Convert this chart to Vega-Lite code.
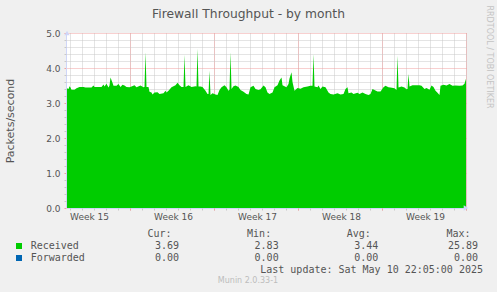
{
  "$schema": "https://vega.github.io/schema/vega-lite/v6.json",
  "width": 399,
  "height": 175,
  "autosize": {"type": "none"},
  "padding": {"left": 67, "top": 33, "right": 31, "bottom": 84},
  "background": "#f0f0f0",
  "config": {
    "view": {"stroke": null, "fill": "#ffffff"},
    "font": "DejaVu Sans",
    "axis": {"labelFont": "DejaVu Sans", "titleFont": "DejaVu Sans", "titleFontWeight": "normal"}
  },
  "datasets": {
    "throughput": [
      {"t": "2025-04-07T18:00Z", "v": 3.42, "series": "Received"},
      {"t": "2025-04-07T21:00Z", "v": 3.40, "series": "Received"},
      {"t": "2025-04-07T23:00Z", "v": 3.48, "series": "Received"},
      {"t": "2025-04-08T01:00Z", "v": 3.44, "series": "Received"},
      {"t": "2025-04-08T03:00Z", "v": 3.38, "series": "Received"},
      {"t": "2025-04-08T09:00Z", "v": 3.38, "series": "Received"},
      {"t": "2025-04-08T13:00Z", "v": 3.42, "series": "Received"},
      {"t": "2025-04-08T19:00Z", "v": 3.46, "series": "Received"},
      {"t": "2025-04-09T03:00Z", "v": 3.46, "series": "Received"},
      {"t": "2025-04-09T07:00Z", "v": 3.44, "series": "Received"},
      {"t": "2025-04-09T19:00Z", "v": 3.44, "series": "Received"},
      {"t": "2025-04-09T23:00Z", "v": 3.50, "series": "Received"},
      {"t": "2025-04-10T01:00Z", "v": 3.46, "series": "Received"},
      {"t": "2025-04-10T15:00Z", "v": 3.46, "series": "Received"},
      {"t": "2025-04-10T19:00Z", "v": 3.53, "series": "Received"},
      {"t": "2025-04-10T21:00Z", "v": 3.47, "series": "Received"},
      {"t": "2025-04-11T01:00Z", "v": 3.55, "series": "Received"},
      {"t": "2025-04-11T05:00Z", "v": 3.44, "series": "Received"},
      {"t": "2025-04-11T07:00Z", "v": 3.50, "series": "Received"},
      {"t": "2025-04-11T09:00Z", "v": 3.73, "series": "Received"},
      {"t": "2025-04-11T13:00Z", "v": 3.58, "series": "Received"},
      {"t": "2025-04-11T15:00Z", "v": 3.49, "series": "Received"},
      {"t": "2025-04-11T21:00Z", "v": 3.49, "series": "Received"},
      {"t": "2025-04-12T01:00Z", "v": 3.54, "series": "Received"},
      {"t": "2025-04-12T05:00Z", "v": 3.46, "series": "Received"},
      {"t": "2025-04-12T09:00Z", "v": 3.52, "series": "Received"},
      {"t": "2025-04-12T13:00Z", "v": 3.50, "series": "Received"},
      {"t": "2025-04-12T17:00Z", "v": 3.46, "series": "Received"},
      {"t": "2025-04-12T23:00Z", "v": 3.45, "series": "Received"},
      {"t": "2025-04-13T03:00Z", "v": 3.47, "series": "Received"},
      {"t": "2025-04-13T09:00Z", "v": 3.51, "series": "Received"},
      {"t": "2025-04-13T13:00Z", "v": 3.45, "series": "Received"},
      {"t": "2025-04-13T21:00Z", "v": 3.50, "series": "Received"},
      {"t": "2025-04-14T03:00Z", "v": 3.45, "series": "Received"},
      {"t": "2025-04-14T05:00Z", "v": 3.46, "series": "Received"},
      {"t": "2025-04-14T07:00Z", "v": 4.45, "series": "Received"},
      {"t": "2025-04-14T09:00Z", "v": 3.46, "series": "Received"},
      {"t": "2025-04-14T13:00Z", "v": 3.46, "series": "Received"},
      {"t": "2025-04-14T15:00Z", "v": 3.32, "series": "Received"},
      {"t": "2025-04-14T19:00Z", "v": 3.30, "series": "Received"},
      {"t": "2025-04-14T21:00Z", "v": 3.24, "series": "Received"},
      {"t": "2025-04-15T01:00Z", "v": 3.30, "series": "Received"},
      {"t": "2025-04-15T07:00Z", "v": 3.31, "series": "Received"},
      {"t": "2025-04-15T11:00Z", "v": 3.26, "series": "Received"},
      {"t": "2025-04-15T19:00Z", "v": 3.28, "series": "Received"},
      {"t": "2025-04-15T23:00Z", "v": 3.35, "series": "Received"},
      {"t": "2025-04-16T01:00Z", "v": 3.30, "series": "Received"},
      {"t": "2025-04-16T05:00Z", "v": 3.35, "series": "Received"},
      {"t": "2025-04-16T11:00Z", "v": 3.45, "series": "Received"},
      {"t": "2025-04-16T19:00Z", "v": 3.51, "series": "Received"},
      {"t": "2025-04-16T23:00Z", "v": 3.58, "series": "Received"},
      {"t": "2025-04-17T03:00Z", "v": 3.51, "series": "Received"},
      {"t": "2025-04-17T07:00Z", "v": 3.46, "series": "Received"},
      {"t": "2025-04-17T11:00Z", "v": 3.46, "series": "Received"},
      {"t": "2025-04-17T13:00Z", "v": 4.38, "series": "Received"},
      {"t": "2025-04-17T15:00Z", "v": 3.46, "series": "Received"},
      {"t": "2025-04-17T21:00Z", "v": 3.51, "series": "Received"},
      {"t": "2025-04-18T03:00Z", "v": 3.46, "series": "Received"},
      {"t": "2025-04-18T11:00Z", "v": 3.48, "series": "Received"},
      {"t": "2025-04-18T13:00Z", "v": 3.47, "series": "Received"},
      {"t": "2025-04-18T15:00Z", "v": 4.55, "series": "Received"},
      {"t": "2025-04-18T17:00Z", "v": 3.47, "series": "Received"},
      {"t": "2025-04-18T21:00Z", "v": 3.47, "series": "Received"},
      {"t": "2025-04-19T01:00Z", "v": 3.46, "series": "Received"},
      {"t": "2025-04-19T07:00Z", "v": 3.35, "series": "Received"},
      {"t": "2025-04-19T11:00Z", "v": 3.26, "series": "Received"},
      {"t": "2025-04-19T13:00Z", "v": 3.26, "series": "Received"},
      {"t": "2025-04-19T15:00Z", "v": 3.92, "series": "Received"},
      {"t": "2025-04-19T17:00Z", "v": 3.23, "series": "Received"},
      {"t": "2025-04-19T21:00Z", "v": 3.28, "series": "Received"},
      {"t": "2025-04-20T03:00Z", "v": 3.24, "series": "Received"},
      {"t": "2025-04-20T07:00Z", "v": 3.23, "series": "Received"},
      {"t": "2025-04-20T11:00Z", "v": 3.37, "series": "Received"},
      {"t": "2025-04-20T15:00Z", "v": 3.45, "series": "Received"},
      {"t": "2025-04-20T21:00Z", "v": 3.51, "series": "Received"},
      {"t": "2025-04-21T01:00Z", "v": 3.45, "series": "Received"},
      {"t": "2025-04-21T05:00Z", "v": 3.35, "series": "Received"},
      {"t": "2025-04-21T07:00Z", "v": 3.38, "series": "Received"},
      {"t": "2025-04-21T09:00Z", "v": 4.45, "series": "Received"},
      {"t": "2025-04-21T11:00Z", "v": 3.40, "series": "Received"},
      {"t": "2025-04-21T15:00Z", "v": 3.48, "series": "Received"},
      {"t": "2025-04-21T19:00Z", "v": 3.50, "series": "Received"},
      {"t": "2025-04-22T01:00Z", "v": 3.46, "series": "Received"},
      {"t": "2025-04-22T05:00Z", "v": 3.37, "series": "Received"},
      {"t": "2025-04-22T11:00Z", "v": 3.32, "series": "Received"},
      {"t": "2025-04-22T17:00Z", "v": 3.26, "series": "Received"},
      {"t": "2025-04-22T21:00Z", "v": 3.24, "series": "Received"},
      {"t": "2025-04-23T01:00Z", "v": 3.45, "series": "Received"},
      {"t": "2025-04-23T07:00Z", "v": 3.49, "series": "Received"},
      {"t": "2025-04-23T11:00Z", "v": 3.40, "series": "Received"},
      {"t": "2025-04-23T17:00Z", "v": 3.37, "series": "Received"},
      {"t": "2025-04-23T21:00Z", "v": 3.39, "series": "Received"},
      {"t": "2025-04-24T03:00Z", "v": 3.50, "series": "Received"},
      {"t": "2025-04-24T07:00Z", "v": 3.45, "series": "Received"},
      {"t": "2025-04-24T11:00Z", "v": 3.30, "series": "Received"},
      {"t": "2025-04-24T15:00Z", "v": 3.26, "series": "Received"},
      {"t": "2025-04-24T21:00Z", "v": 3.30, "series": "Received"},
      {"t": "2025-04-25T01:00Z", "v": 3.45, "series": "Received"},
      {"t": "2025-04-25T07:00Z", "v": 3.51, "series": "Received"},
      {"t": "2025-04-25T11:00Z", "v": 3.64, "series": "Received"},
      {"t": "2025-04-25T15:00Z", "v": 3.73, "series": "Received"},
      {"t": "2025-04-25T17:00Z", "v": 3.51, "series": "Received"},
      {"t": "2025-04-25T19:00Z", "v": 3.49, "series": "Received"},
      {"t": "2025-04-26T01:00Z", "v": 3.45, "series": "Received"},
      {"t": "2025-04-26T05:00Z", "v": 3.54, "series": "Received"},
      {"t": "2025-04-26T07:00Z", "v": 3.70, "series": "Received"},
      {"t": "2025-04-26T11:00Z", "v": 3.88, "series": "Received"},
      {"t": "2025-04-26T13:00Z", "v": 3.60, "series": "Received"},
      {"t": "2025-04-26T17:00Z", "v": 3.35, "series": "Received"},
      {"t": "2025-04-26T23:00Z", "v": 3.43, "series": "Received"},
      {"t": "2025-04-27T05:00Z", "v": 3.41, "series": "Received"},
      {"t": "2025-04-27T11:00Z", "v": 3.45, "series": "Received"},
      {"t": "2025-04-27T19:00Z", "v": 3.47, "series": "Received"},
      {"t": "2025-04-28T01:00Z", "v": 3.49, "series": "Received"},
      {"t": "2025-04-28T05:00Z", "v": 3.49, "series": "Received"},
      {"t": "2025-04-28T07:00Z", "v": 4.40, "series": "Received"},
      {"t": "2025-04-28T09:00Z", "v": 3.47, "series": "Received"},
      {"t": "2025-04-28T15:00Z", "v": 3.45, "series": "Received"},
      {"t": "2025-04-28T17:00Z", "v": 3.50, "series": "Received"},
      {"t": "2025-04-28T21:00Z", "v": 3.40, "series": "Received"},
      {"t": "2025-04-29T01:00Z", "v": 3.47, "series": "Received"},
      {"t": "2025-04-29T07:00Z", "v": 3.45, "series": "Received"},
      {"t": "2025-04-29T13:00Z", "v": 3.30, "series": "Received"},
      {"t": "2025-04-29T17:00Z", "v": 3.26, "series": "Received"},
      {"t": "2025-04-29T23:00Z", "v": 3.24, "series": "Received"},
      {"t": "2025-04-30T07:00Z", "v": 3.28, "series": "Received"},
      {"t": "2025-04-30T13:00Z", "v": 3.24, "series": "Received"},
      {"t": "2025-04-30T19:00Z", "v": 3.26, "series": "Received"},
      {"t": "2025-04-30T23:00Z", "v": 3.40, "series": "Received"},
      {"t": "2025-05-01T03:00Z", "v": 3.45, "series": "Received"},
      {"t": "2025-05-01T05:00Z", "v": 3.28, "series": "Received"},
      {"t": "2025-05-01T11:00Z", "v": 3.30, "series": "Received"},
      {"t": "2025-05-01T15:00Z", "v": 3.26, "series": "Received"},
      {"t": "2025-05-01T23:00Z", "v": 3.29, "series": "Received"},
      {"t": "2025-05-02T03:00Z", "v": 3.26, "series": "Received"},
      {"t": "2025-05-02T09:00Z", "v": 3.30, "series": "Received"},
      {"t": "2025-05-02T15:00Z", "v": 3.26, "series": "Received"},
      {"t": "2025-05-02T21:00Z", "v": 3.23, "series": "Received"},
      {"t": "2025-05-03T01:00Z", "v": 3.26, "series": "Received"},
      {"t": "2025-05-03T05:00Z", "v": 3.40, "series": "Received"},
      {"t": "2025-05-03T09:00Z", "v": 3.37, "series": "Received"},
      {"t": "2025-05-03T15:00Z", "v": 3.33, "series": "Received"},
      {"t": "2025-05-03T21:00Z", "v": 3.33, "series": "Received"},
      {"t": "2025-05-04T03:00Z", "v": 3.45, "series": "Received"},
      {"t": "2025-05-04T07:00Z", "v": 3.49, "series": "Received"},
      {"t": "2025-05-04T13:00Z", "v": 3.45, "series": "Received"},
      {"t": "2025-05-04T17:00Z", "v": 3.44, "series": "Received"},
      {"t": "2025-05-05T01:00Z", "v": 3.42, "series": "Received"},
      {"t": "2025-05-05T05:00Z", "v": 3.37, "series": "Received"},
      {"t": "2025-05-05T07:00Z", "v": 4.35, "series": "Received"},
      {"t": "2025-05-05T09:00Z", "v": 3.44, "series": "Received"},
      {"t": "2025-05-05T15:00Z", "v": 3.47, "series": "Received"},
      {"t": "2025-05-05T21:00Z", "v": 3.44, "series": "Received"},
      {"t": "2025-05-06T01:00Z", "v": 3.39, "series": "Received"},
      {"t": "2025-05-06T03:00Z", "v": 3.40, "series": "Received"},
      {"t": "2025-05-06T05:00Z", "v": 3.83, "series": "Received"},
      {"t": "2025-05-06T07:00Z", "v": 3.47, "series": "Received"},
      {"t": "2025-05-06T13:00Z", "v": 3.51, "series": "Received"},
      {"t": "2025-05-06T19:00Z", "v": 3.51, "series": "Received"},
      {"t": "2025-05-07T03:00Z", "v": 3.51, "series": "Received"},
      {"t": "2025-05-07T07:00Z", "v": 3.49, "series": "Received"},
      {"t": "2025-05-07T13:00Z", "v": 3.40, "series": "Received"},
      {"t": "2025-05-07T17:00Z", "v": 3.43, "series": "Received"},
      {"t": "2025-05-07T23:00Z", "v": 3.38, "series": "Received"},
      {"t": "2025-05-08T03:00Z", "v": 3.50, "series": "Received"},
      {"t": "2025-05-08T07:00Z", "v": 3.46, "series": "Received"},
      {"t": "2025-05-08T11:00Z", "v": 3.35, "series": "Received"},
      {"t": "2025-05-08T15:00Z", "v": 3.29, "series": "Received"},
      {"t": "2025-05-08T19:00Z", "v": 3.23, "series": "Received"},
      {"t": "2025-05-08T21:00Z", "v": 3.49, "series": "Received"},
      {"t": "2025-05-09T03:00Z", "v": 3.52, "series": "Received"},
      {"t": "2025-05-09T09:00Z", "v": 3.50, "series": "Received"},
      {"t": "2025-05-09T15:00Z", "v": 3.54, "series": "Received"},
      {"t": "2025-05-09T21:00Z", "v": 3.49, "series": "Received"},
      {"t": "2025-05-10T03:00Z", "v": 3.50, "series": "Received"},
      {"t": "2025-05-10T11:00Z", "v": 3.49, "series": "Received"},
      {"t": "2025-05-10T17:00Z", "v": 3.50, "series": "Received"},
      {"t": "2025-05-10T21:00Z", "v": 3.55, "series": "Received"},
      {"t": "2025-05-11T00:00Z", "v": 3.69, "series": "Received"}
    ],
    "stats": [
      {"series": "Received", "stat": "Cur", "value": 3.69},
      {"series": "Received", "stat": "Min", "value": 2.83},
      {"series": "Received", "stat": "Avg", "value": 3.44},
      {"series": "Received", "stat": "Max", "value": 25.89},
      {"series": "Forwarded", "stat": "Cur", "value": 0.0},
      {"series": "Forwarded", "stat": "Min", "value": 0.0},
      {"series": "Forwarded", "stat": "Avg", "value": 0.0},
      {"series": "Forwarded", "stat": "Max", "value": 0.0}
    ],
    "headers": [
      {"row": "header", "stat": "Cur", "label": "Cur:"},
      {"row": "header", "stat": "Min", "label": "Min:"},
      {"row": "header", "stat": "Avg", "label": "Avg:"},
      {"row": "header", "stat": "Max", "label": "Max:"}
    ],
    "footer": [
      {"row": "update", "text": "Last update: Sat May 10 22:05:00 2025"}
    ],
    "version": [
      {"row": "munin", "text": "Munin 2.0.33-1"}
    ],
    "arrowY": [
      {"t": "2025-04-07T18:00Z", "v": 5}
    ],
    "arrowX": [
      {"t": "2025-05-11T00:00Z", "v": 0}
    ]
  },
  "layer": [
    {
      "data": {"name": "throughput"},
      "mark": {"type": "area", "opacity": 1, "clip": true, "interpolate": "linear"},
      "encoding": {
        "x": {
          "field": "t", "type": "temporal",
          "scale": {"type": "utc", "nice": false, "domain": [{"year": 2025, "month": 4, "date": 7, "hours": 18, "utc": true}, {"year": 2025, "month": 5, "date": 11, "hours": 0, "utc": true}]},
          "axis": {
            "orient": "bottom", "title": null,
            "values": [
              {"year": 2025, "month": 4, "date": 9, "hours": 14, "utc": true},
              {"year": 2025, "month": 4, "date": 16, "hours": 14, "utc": true},
              {"year": 2025, "month": 4, "date": 23, "hours": 14, "utc": true},
              {"year": 2025, "month": 4, "date": 30, "hours": 14, "utc": true},
              {"year": 2025, "month": 5, "date": 7, "hours": 14, "utc": true}
            ],
            "labelExpr": "'Week ' + utcFormat(datum.value, '%V')",
            "grid": false, "ticks": false, "tickSize": 0,
            "domain": true, "domainColor": "#cfd6f8", "domainWidth": 1,
            "labelFontSize": 9, "labelColor": "#555555", "labelBaseline": "alphabetic",
            "labelPadding": 11, "labelFlush": false, "labelOverlap": false
          }
        },
        "y": {
          "field": "v", "type": "quantitative",
          "scale": {"domain": [0, 5], "nice": false, "zero": true},
          "axis": {
            "orient": "left", "values": [0, 1, 2, 3, 4, 5], "format": ".1f",
            "grid": true, "gridColor": "#f0a0a0", "gridDash": [1, 1], "gridWidth": 1,
            "ticks": true, "tickColor": "#f0a0a0", "tickSize": 2,
            "domain": true, "domainColor": "#cfd6f8", "offset": 1,
            "labelFontSize": 9, "labelColor": "#555555", "labelPadding": 4,
            "title": "Packets/second", "titleFontSize": 11, "titleColor": "#555555",
            "titleAngle": 270, "titleX": -52.5, "titleY": 87.5, "titleAlign": "center", "titleBaseline": "alphabetic"
          }
        },
        "color": {
          "field": "series", "type": "nominal",
          "scale": {"domain": ["Received", "Forwarded"], "range": ["#00cc00", "#0066b3"]},
          "legend": {
            "orient": "none", "legendX": -53, "legendY": 208, "title": null, "direction": "vertical",
            "symbolType": "square", "symbolSize": 36, "symbolStrokeWidth": 0, "symbolOpacity": 1,
            "labelFont": "DejaVu Sans Mono", "labelFontSize": 10, "labelColor": "#555555",
            "labelOffset": 6.7, "rowPadding": 2, "padding": 0
          }
        }
      }
    },
    {
      "data": {"name": "throughput"},
      "mark": {"type": "point", "opacity": 0, "size": 1},
      "encoding": {
        "x": {
          "field": "t", "type": "temporal",
          "scale": {"type": "utc", "nice": false, "domain": [{"year": 2025, "month": 4, "date": 7, "hours": 18, "utc": true}, {"year": 2025, "month": 5, "date": 11, "hours": 0, "utc": true}]},
          "axis": {
            "orient": "bottom", "title": null, "tickCount": {"interval": "day", "step": 1},
            "grid": true, "gridColor": "#c8c8c8", "gridDash": [1, 1], "gridWidth": 1,
            "ticks": true, "tickColor": "#c8c8c8", "tickSize": 2,
            "labels": false, "domain": false
          }
        },
        "y": {
          "field": "v", "type": "quantitative",
          "scale": {"domain": [0, 5], "nice": false, "zero": true},
          "axis": {
            "orient": "left", "title": null, "offset": 1,
            "values": [0.2, 0.4, 0.6, 0.8, 1.2, 1.4, 1.6, 1.8, 2.2, 2.4, 2.6, 2.8, 3.2, 3.4, 3.6, 3.8, 4.2, 4.4, 4.6, 4.8],
            "grid": true, "gridColor": "#c8c8c8", "gridDash": [1, 1], "gridWidth": 1,
            "ticks": true, "tickColor": "#c8c8c8", "tickSize": 2,
            "labels": false, "domain": false
          }
        }
      }
    },
    {
      "data": {"name": "throughput"},
      "mark": {"type": "point", "opacity": 0, "size": 1},
      "encoding": {
        "x": {
          "field": "t", "type": "temporal",
          "scale": {"type": "utc", "nice": false, "domain": [{"year": 2025, "month": 4, "date": 7, "hours": 18, "utc": true}, {"year": 2025, "month": 5, "date": 11, "hours": 0, "utc": true}]},
          "axis": {
            "orient": "bottom", "title": null, "tickCount": {"interval": "week", "step": 1},
            "grid": true, "gridColor": "#f0a0a0", "gridDash": [1, 1], "gridWidth": 1,
            "ticks": true, "tickColor": "#f0a0a0", "tickSize": 2,
            "labels": false, "domain": false
          }
        },
        "y": {
          "field": "v", "type": "quantitative",
          "scale": {"domain": [0, 5], "nice": false, "zero": true},
          "axis": {
            "orient": "right", "grid": false, "ticks": false, "labels": false, "domain": false,
            "title": "RRDTOOL / TOBI OETIKER", "titleFontSize": 8, "titleColor": "#c4c4c4",
            "titleAngle": 90, "titleX": 20.5, "titleY": -28, "titleAlign": "left", "titleBaseline": "alphabetic"
          }
        }
      }
    },
    {
      "data": {"name": "throughput"},
      "mark": {"type": "point", "opacity": 0, "size": 1},
      "encoding": {
        "x": {
          "field": "t", "type": "temporal",
          "scale": {"type": "utc", "nice": false, "domain": [{"year": 2025, "month": 4, "date": 7, "hours": 18, "utc": true}, {"year": 2025, "month": 5, "date": 11, "hours": 0, "utc": true}]},
          "axis": {
            "orient": "top", "grid": false, "ticks": false, "labels": false, "domain": false,
            "title": "Firewall Throughput - by month", "titleFontSize": 12.3, "titleColor": "#555555",
            "titleX": 181, "titleY": -16, "titleAlign": "center", "titleBaseline": "alphabetic"
          }
        },
        "y": {"field": "v", "type": "quantitative", "scale": {"domain": [0, 5], "nice": false}, "axis": null}
      }
    },
    {
      "data": {"name": "arrowY"},
      "mark": {"type": "point", "shape": "triangle-up", "filled": true, "size": 28, "opacity": 1, "color": "#cfd6f8", "dx": -0.5, "dy": -4.5},
      "encoding": {
        "x": {"field": "t", "type": "temporal", "scale": {"type": "utc", "nice": false, "domain": [{"year": 2025, "month": 4, "date": 7, "hours": 18, "utc": true}, {"year": 2025, "month": 5, "date": 11, "hours": 0, "utc": true}]}, "axis": null},
        "y": {"field": "v", "type": "quantitative", "scale": {"domain": [0, 5], "nice": false}, "axis": null}
      }
    },
    {
      "data": {"name": "arrowX"},
      "mark": {"type": "point", "shape": "triangle-right", "filled": true, "size": 28, "opacity": 1, "color": "#cfd6f8", "dx": 4.5, "dy": 0.5},
      "encoding": {
        "x": {"field": "t", "type": "temporal", "scale": {"type": "utc", "nice": false, "domain": [{"year": 2025, "month": 4, "date": 7, "hours": 18, "utc": true}, {"year": 2025, "month": 5, "date": 11, "hours": 0, "utc": true}]}, "axis": null},
        "y": {"field": "v", "type": "quantitative", "scale": {"domain": [0, 5], "nice": false}, "axis": null}
      }
    },
    {
      "data": {"name": "stats"},
      "mark": {"type": "text", "align": "right", "baseline": "alphabetic", "font": "DejaVu Sans Mono", "fontSize": 10, "color": "#555555"},
      "encoding": {
        "x": {"field": "stat", "type": "nominal", "scale": {"type": "point", "domain": ["Cur", "Min", "Avg", "Max"], "range": [112, 411], "padding": 0}, "axis": null},
        "y": {"field": "series", "type": "nominal", "scale": {"type": "point", "domain": ["header", "Received", "Forwarded", "update", "munin"], "range": [204, 252], "padding": 0}, "axis": null},
        "text": {"field": "value", "type": "quantitative", "format": ".2f"}
      }
    },
    {
      "data": {"name": "headers"},
      "mark": {"type": "text", "align": "right", "baseline": "alphabetic", "dx": -7.5, "font": "DejaVu Sans Mono", "fontSize": 10, "color": "#555555"},
      "encoding": {
        "x": {"field": "stat", "type": "nominal", "scale": {"type": "point", "domain": ["Cur", "Min", "Avg", "Max"], "range": [112, 411], "padding": 0}, "axis": null},
        "y": {"field": "row", "type": "nominal", "scale": {"type": "point", "domain": ["header", "Received", "Forwarded", "update", "munin"], "range": [204, 252], "padding": 0}, "axis": null},
        "text": {"field": "label", "type": "nominal"}
      }
    },
    {
      "data": {"name": "footer"},
      "mark": {"type": "text", "align": "right", "baseline": "alphabetic", "font": "DejaVu Sans Mono", "fontSize": 10, "color": "#555555"},
      "encoding": {
        "x": {"field": "row", "type": "nominal", "scale": {"type": "point", "domain": ["update"], "range": [416, 416], "padding": 0}, "axis": null},
        "y": {"field": "row", "type": "nominal", "scale": {"type": "point", "domain": ["header", "Received", "Forwarded", "update", "munin"], "range": [204, 252], "padding": 0}, "axis": null},
        "text": {"field": "text", "type": "nominal"}
      }
    },
    {
      "data": {"name": "version"},
      "mark": {"type": "text", "align": "center", "baseline": "bottom", "font": "DejaVu Sans", "fontSize": 8, "color": "#bdbdbd"},
      "encoding": {
        "x": {"field": "row", "type": "nominal", "scale": {"type": "point", "domain": ["munin"], "range": [181, 181], "padding": 0}, "axis": null},
        "y": {"field": "row", "type": "nominal", "scale": {"type": "point", "domain": ["header", "Received", "Forwarded", "update", "munin"], "range": [204, 252], "padding": 0}, "axis": null},
        "text": {"field": "text", "type": "nominal"}
      }
    }
  ],
  "resolve": {
    "scale": {"x": "independent", "y": "independent"},
    "axis": {"x": "independent", "y": "independent"}
  }
}
